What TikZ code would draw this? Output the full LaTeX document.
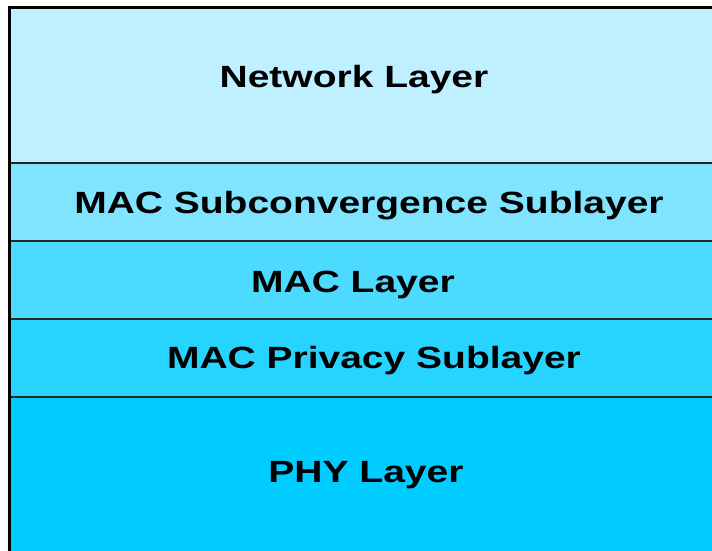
\documentclass[tikz,border=0pt]{standalone}
\usepackage{fontspec}
\setmainfont{Liberation Sans}[FakeStretch=1.27]
\definecolor{netcol}{RGB}{191,240,255}
\definecolor{subcol}{RGB}{128,228,255}
\definecolor{maccol}{RGB}{77,218,255}
\definecolor{privcol}{RGB}{38,212,255}
\definecolor{phycol}{RGB}{0,204,255}

\begin{document}
\begin{tikzpicture}[x=1pt,y=-1pt,
    layertext/.style={font=\fontsize{30.7}{36}\selectfont\bfseries,anchor=base,inner sep=0pt},
    sep/.style={line width=2pt,black!85}]
      \useasboundingbox (0,0) rectangle (712,550);
      % layers, top to bottom
      \fill[netcol]  (9,7) rectangle (720,163);
      \fill[subcol]  (9,163) rectangle (720,241);
      \fill[maccol]  (9,241) rectangle (720,319);
      \fill[privcol] (9,319) rectangle (720,397);
      \fill[phycol]  (9,397) rectangle (720,560);
      \foreach \y in {163,241,319,397}
       {\draw [sep] (9,\y) -- (720,\y);}
      \draw [line width=3pt] (9,560) -- (9,7.5) -- (720,7.5);
      \node [layertext] (net)  at (354,87)  {Network Layer};
      \node [layertext] (sub)  at (369,213) {MAC Subconvergence Sublayer};
      \node [layertext] (mac)  at (353,292) {MAC Layer};
      \node [layertext] (priv) at (374,368) {MAC Privacy Sublayer};
      \node [layertext] (phy)  at (366,482) {PHY Layer};
\end{tikzpicture}
\end{document}
